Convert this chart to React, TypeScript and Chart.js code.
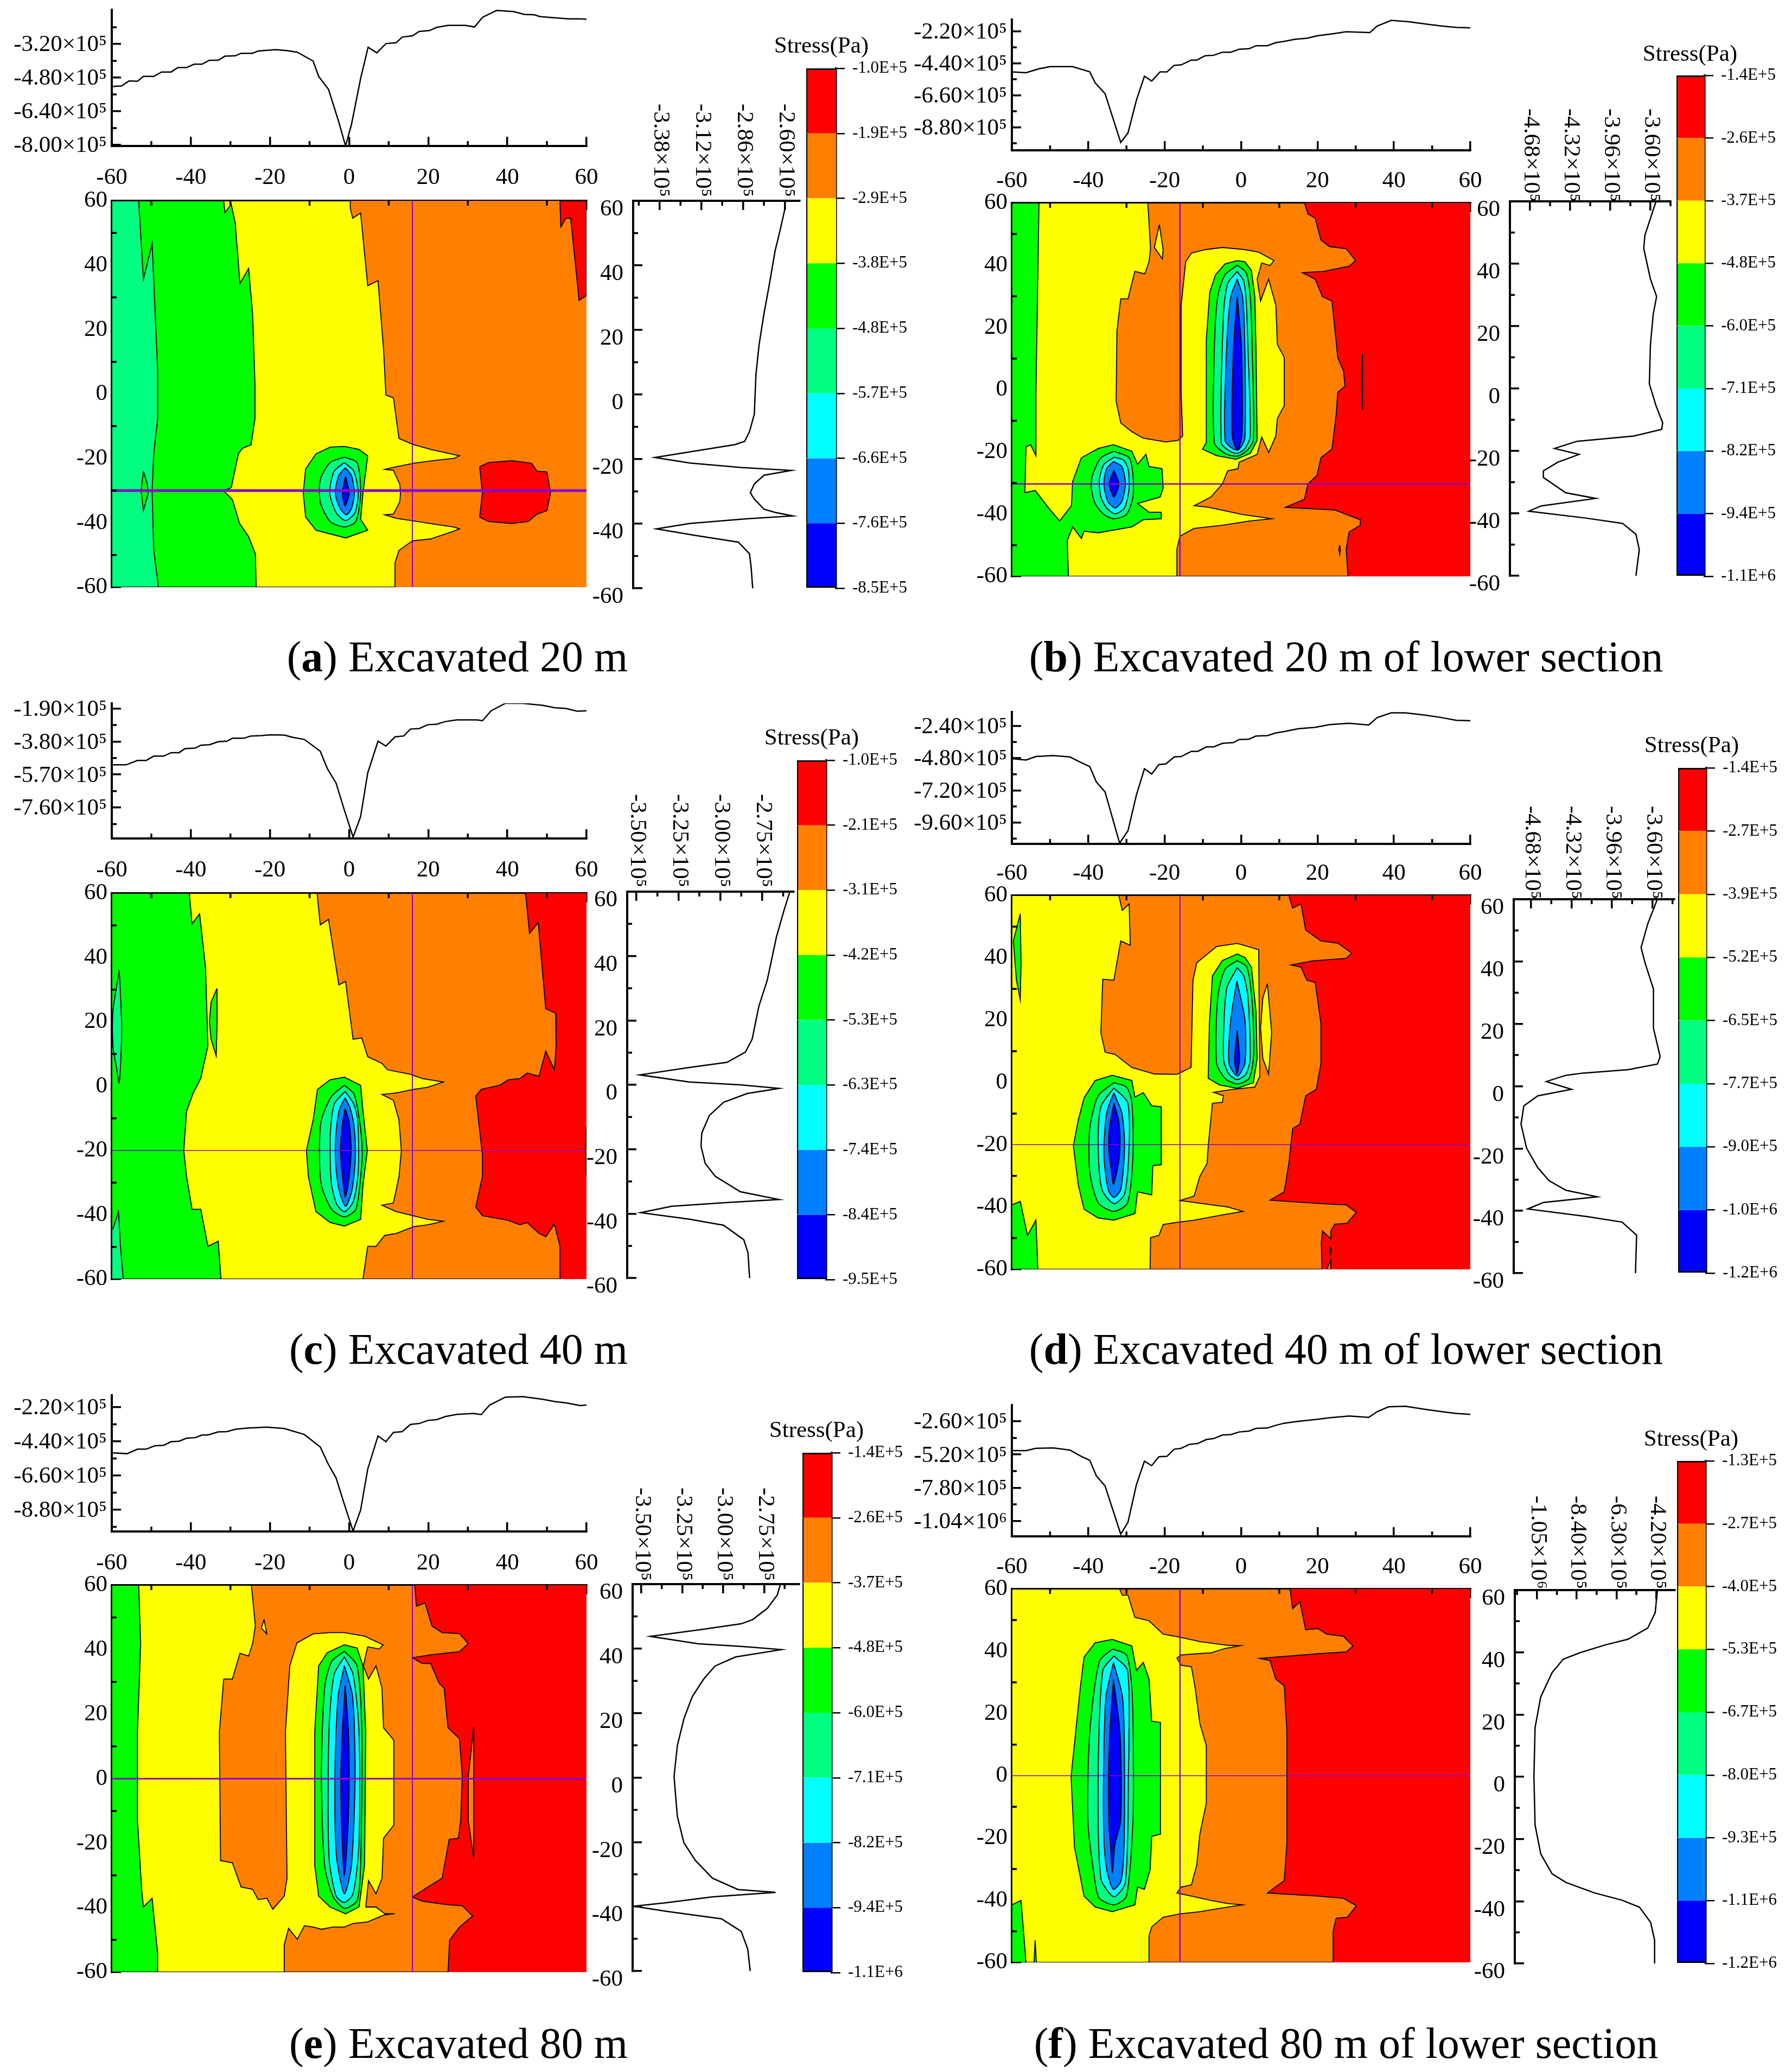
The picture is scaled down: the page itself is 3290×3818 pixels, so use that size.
import React, { useEffect, useRef } from "react";
import { Chart, registerables } from "chart.js";
Chart.register(...registerables);

type P = number[][];

// ---------- colours of the stress bands, top of the colour bar first ----------
const RED = "#ff0000", ORANGE = "#ff8000", YELLOW = "#ffff00", GREEN = "#00ff00";
const SPRING = "#00ff80", CYAN = "#00ffff", DODGER = "#0080ff", BLUE = "#0000ff";
const bandColors = [RED, ORANGE, YELLOW, GREEN, SPRING, CYAN, DODGER, BLUE];
const PURPLE = "#8a00d0";
const FULL: P = [[-60, 60], [60, 60], [60, -60], [-60, -60]];

// ---------- colour-bar labels ----------
const aLegend = ["-1.0E+5", "-1.9E+5", "-2.9E+5", "-3.8E+5", "-4.8E+5", "-5.7E+5", "-6.6E+5", "-7.6E+5", "-8.5E+5"];
const bLegend = ["-1.4E+5", "-2.6E+5", "-3.7E+5", "-4.8E+5", "-6.0E+5", "-7.1E+5", "-8.2E+5", "-9.4E+5", "-1.1E+6"];
const cLegend = ["-1.0E+5", "-2.1E+5", "-3.1E+5", "-4.2E+5", "-5.3E+5", "-6.3E+5", "-7.4E+5", "-8.4E+5", "-9.5E+5"];
const dLegend = ["-1.4E+5", "-2.7E+5", "-3.9E+5", "-5.2E+5", "-6.5E+5", "-7.7E+5", "-9.0E+5", "-1.0E+6", "-1.2E+6"];
const eLegend = ["-1.4E+5", "-2.6E+5", "-3.7E+5", "-4.8E+5", "-6.0E+5", "-7.1E+5", "-8.2E+5", "-9.4E+5", "-1.1E+6"];
const fLegend = ["-1.3E+5", "-2.7E+5", "-4.0E+5", "-5.3E+5", "-6.7E+5", "-8.0E+5", "-9.3E+5", "-1.1E+6", "-1.2E+6"];

// ---------- axis ticks (stress in 1e5 Pa) ----------
const distanceTicks = [-60, -40, -20, 0, 20, 40, 60];
const distanceMinor = [-50, -30, -10, 10, 30, 50];
const aTopTicks = [-3.2, -4.8, -6.4, -8.0];
const bTopTicks = [-2.2, -4.4, -6.6, -8.8];
const cTopTicks = [-1.9, -3.8, -5.7, -7.6];
const dTopTicks = [-2.4, -4.8, -7.2, -9.6];
const eTopTicks = [-2.2, -4.4, -6.6, -8.8];
const fTopTicks = [-2.6, -5.2, -7.8, -10.4];
const aRightTicks = [-3.38, -3.12, -2.86, -2.6];
const bRightTicks = [-4.68, -4.32, -3.96, -3.6];
const cRightTicks = [-3.5, -3.25, -3.0, -2.75];
const dRightTicks = [-4.68, -4.32, -3.96, -3.6];
const eRightTicks = [-3.5, -3.25, -3.0, -2.75];
const fRightTicks = [-10.5, -8.4, -6.3, -4.2];
const aTopRange = [-8.05, -1.57], bTopRange = [-10.39, -1.39], cTopRange = [-9.38, -1.6];
const dTopRange = [-11.19, -1.36], eTopRange = [-10.2, -1.43], fTopRange = [-11.61, -1.32];
const aRightRange = [-3.545, -2.507], bRightRange = [-4.86, -3.42], cRightRange = [-3.555, -2.562];
const dRightRange = [-4.835, -3.404], eRightRange = [-3.553, -2.536], fRightRange = [-11.67, -3.22];

// ---------- profile along the horizontal section: [distance, stress] ----------
const aTopLine: P = [[-60,-5.22],[-57.5,-5.19],[-55.6,-4.95],[-53.5,-4.97],[-52,-4.74],[-49.4,-4.74],[-47.4,-4.53],[-45,-4.53],[-43.3,-4.32],[-41.1,-4.32],[-39.2,-4.16],[-37.2,-4.16],[-35.3,-3.97],[-33.1,-3.97],[-31.4,-3.78],[-28.8,-3.76],[-27.3,-3.64],[-24.4,-3.64],[-23,-3.53],[-18.6,-3.47],[-15.7,-3.51],[-13.1,-3.59],[-9.1,-4.01],[-7.7,-4.74],[-5.2,-5.36],[-2.6,-6.92],[-0.9,-8.05],[0.6,-7.02],[2.9,-4.84],[4.8,-3.35],[7,-3.62],[9.3,-3.18],[11.9,-3.14],[13.4,-2.87],[16,-2.81],[17.7,-2.6],[20.3,-2.56],[22.1,-2.41],[25,-2.31],[29.4,-2.31],[31.7,-2.39],[33.7,-1.93],[37.3,-1.6],[41.7,-1.66],[44.2,-1.79],[46.8,-1.81],[48.2,-1.89],[51.9,-1.95],[55.5,-2],[58.4,-2],[60,-2.02]];
const bTopLine: P = [[-60,-4.99],[-56.3,-5.05],[-52.9,-4.78],[-50,-4.63],[-44.1,-4.63],[-39.6,-4.99],[-38.2,-5.74],[-35.6,-6.49],[-31.5,-9.85],[-29.6,-9.19],[-27.4,-6.94],[-25.3,-5.29],[-23.4,-5.62],[-21.2,-4.99],[-19.4,-4.99],[-17.5,-4.54],[-15.7,-4.51],[-13,-4.18],[-11.6,-4.18],[-9.4,-3.88],[-7.2,-3.85],[-4.9,-3.64],[-2.7,-3.64],[-0.5,-3.43],[2.1,-3.4],[3.9,-3.19],[6.9,-3.19],[9.1,-2.98],[11.3,-2.89],[14.2,-2.74],[17.2,-2.68],[20.1,-2.5],[23.8,-2.38],[27.5,-2.23],[33.7,-2.29],[35.6,-1.84],[39.3,-1.45],[43.8,-1.54],[48.9,-1.72],[52.6,-1.84],[56.3,-1.93],[60,-1.96]];
const cTopLine: P = [[-60,-5.14],[-56.4,-5.14],[-53.5,-4.89],[-51.3,-4.89],[-49.4,-4.64],[-46.9,-4.64],[-45,-4.44],[-43,-4.44],[-41.5,-4.21],[-38.9,-4.18],[-37.5,-4.01],[-35.3,-3.98],[-33.1,-3.81],[-30.9,-3.78],[-29.5,-3.61],[-26.6,-3.61],[-24.8,-3.48],[-22.2,-3.46],[-20,-3.41],[-16.4,-3.43],[-14.2,-3.56],[-11.3,-3.68],[-7.3,-4.36],[-5.5,-5.36],[-3.3,-6.19],[-1.2,-7.75],[1,-9.3],[2.9,-8.12],[4.7,-5.61],[7.3,-3.78],[9.3,-4.06],[11.6,-3.53],[13.8,-3.48],[15.5,-3.08],[17.7,-3.05],[19.9,-2.83],[22.1,-2.8],[24.3,-2.65],[27.2,-2.55],[32.3,-2.55],[33.7,-2.6],[35.9,-2.03],[39.5,-1.6],[43.9,-1.6],[49,-1.72],[51.9,-1.85],[54.8,-1.9],[57.7,-2.05],[60,-2.03]];
const dTopLine: P = [[-60,-4.84],[-56.3,-4.94],[-53.7,-4.68],[-49.2,-4.61],[-44.8,-4.71],[-42.1,-5.1],[-39.6,-5.43],[-37.9,-6.57],[-35.6,-7.32],[-31.8,-11.13],[-29.6,-10.21],[-27.4,-7.54],[-25.3,-5.59],[-23.4,-5.98],[-21.5,-5.27],[-19.7,-5.23],[-17.5,-4.71],[-15.7,-4.68],[-13,-4.29],[-11.3,-4.29],[-9.1,-3.96],[-7.2,-3.96],[-4.9,-3.7],[-2,-3.64],[-0.5,-3.41],[2.1,-3.38],[3.9,-3.15],[6.9,-3.12],[9.1,-2.92],[11.3,-2.82],[15,-2.6],[19.4,-2.5],[23.1,-2.3],[28.3,-2.2],[33.4,-2.33],[35.6,-1.78],[39.3,-1.42],[43,-1.42],[48.2,-1.59],[52.6,-1.78],[56.3,-1.98],[60,-2.01]];
const eTopLine: P = [[-60,-5.13],[-56.1,-5.19],[-53.5,-4.9],[-51.3,-4.9],[-49.1,-4.68],[-46.9,-4.65],[-45,-4.42],[-43,-4.39],[-41.1,-4.19],[-38.9,-4.16],[-37.2,-3.99],[-35.7,-3.99],[-33.1,-3.79],[-30.9,-3.77],[-28.8,-3.62],[-25.9,-3.54],[-20.8,-3.48],[-16.4,-3.57],[-11.3,-3.96],[-7.3,-4.76],[-5.2,-5.9],[-3.3,-6.75],[-1.2,-8.46],[1,-10.17],[2.9,-8.83],[4.7,-6.18],[7.3,-4.05],[9.3,-4.42],[11.2,-3.82],[13.4,-3.77],[15.5,-3.31],[17.7,-3.25],[19.9,-3.05],[22.1,-3],[24.3,-2.8],[27.2,-2.66],[31.5,-2.6],[33.4,-2.68],[35.5,-2.06],[39.5,-1.55],[43.9,-1.52],[49,-1.69],[51.9,-1.83],[54.8,-1.92],[58.4,-2.09],[60,-2.06]];
const fTopLine: P = [[-60,-4.89],[-56.3,-4.89],[-53.7,-4.71],[-49.2,-4.68],[-44.8,-4.85],[-42.1,-5.3],[-39.6,-5.65],[-37.9,-6.86],[-35.6,-7.66],[-31.5,-11.44],[-29.6,-10.5],[-27.4,-7.56],[-25.3,-5.72],[-23.4,-6.07],[-21.5,-5.37],[-19.4,-5.34],[-17.5,-4.78],[-15.7,-4.71],[-13.5,-4.4],[-11.3,-4.33],[-9.1,-4.02],[-7.2,-3.95],[-4.9,-3.67],[-2.7,-3.64],[-0.5,-3.43],[2.1,-3.36],[3.9,-3.15],[6.9,-3.12],[9.1,-2.91],[11.3,-2.74],[15,-2.6],[19.4,-2.46],[23.1,-2.32],[28.3,-2.18],[33.4,-2.29],[35.6,-1.84],[38.6,-1.46],[43,-1.42],[48.2,-1.66],[52.6,-1.84],[56.3,-1.98],[60,-2.05]];

// ---------- profile along the vertical section: [stress, distance] ----------
const aRightLine: P = [[-2.6,60],[-2.6,57.4],[-2.63,50.7],[-2.66,44.6],[-2.7,33.1],[-2.73,25],[-2.76,15.5],[-2.78,6.1],[-2.79,-6.1],[-2.82,-11.5],[-2.85,-14.5],[-2.91,-15.5],[-3.12,-17.2],[-3.41,-19.5],[-3.19,-21.2],[-2.87,-22.6],[-2.56,-23.5],[-2.73,-25],[-2.79,-27.7],[-2.815,-30.4],[-2.79,-32.4],[-2.73,-35.5],[-2.66,-36.5],[-2.55,-37.6],[-2.84,-38.5],[-3.19,-39.9],[-3.4,-41.6],[-3.16,-43.6],[-2.89,-45.7],[-2.82,-49.3],[-2.81,-53.4],[-2.8,-60]];
const bRightLine: P = [[-3.55,60],[-3.65,49.1],[-3.66,44.9],[-3.6,35.1],[-3.545,29.5],[-3.575,23.9],[-3.6,14.1],[-3.61,1.5],[-3.55,-5.5],[-3.49,-11],[-3.5,-13.1],[-3.75,-15.2],[-4.26,-16.9],[-4.46,-19.2],[-4.24,-21.1],[-4.43,-23.6],[-4.56,-26.4],[-4.56,-28.5],[-4.36,-33.4],[-4.09,-35.2],[-4.58,-37.6],[-4.69,-39.3],[-4.18,-41.5],[-3.85,-43.2],[-3.73,-46.7],[-3.7,-51.6],[-3.73,-60]];
const cRightLine: P = [[-2.585,60],[-2.62,54.2],[-2.665,46],[-2.72,32.5],[-2.77,24.4],[-2.81,14.2],[-2.85,10.2],[-2.96,7],[-3.185,5.4],[-3.48,3.1],[-3.185,0.9],[-2.88,0],[-2.65,-1.1],[-2.84,-2.7],[-2.98,-5.4],[-3.065,-9.5],[-3.11,-14.9],[-3.115,-19],[-3.09,-24.4],[-3.03,-28.4],[-2.88,-33.2],[-2.65,-35.6],[-2.98,-36.6],[-3.29,-37.7],[-3.475,-39.7],[-3.185,-41.7],[-2.98,-43.6],[-2.86,-48.1],[-2.835,-52.1],[-2.825,-60]];
const dRightLine: P = [[-3.555,60],[-3.64,52.2],[-3.7,44.5],[-3.665,39.6],[-3.59,31.2],[-3.59,18.6],[-3.53,9.5],[-3.555,7.1],[-3.815,5.3],[-4.22,4.2],[-4.37,3.5],[-4.545,1.5],[-4.32,-1],[-4.62,-3.1],[-4.745,-6.3],[-4.77,-12.2],[-4.72,-19.9],[-4.62,-26.2],[-4.52,-30.3],[-4.37,-33.4],[-4.09,-35.5],[-4.57,-37.3],[-4.71,-39.4],[-4.19,-41.8],[-3.87,-43.6],[-3.74,-47.8],[-3.75,-60]];
const eRightLine: P = [[-2.65,60],[-2.67,56.6],[-2.73,52.5],[-2.82,49],[-2.89,47.7],[-3.135,45.9],[-3.445,43.8],[-3.15,41.5],[-2.89,40.7],[-2.645,39.7],[-2.925,37.4],[-3.05,34.6],[-3.12,30.5],[-3.19,25],[-3.24,18.2],[-3.28,9.9],[-3.3,0.3],[-3.28,-12],[-3.24,-20.2],[-3.17,-25.7],[-3.065,-31.2],[-2.91,-34.7],[-2.68,-35.6],[-3.065,-37],[-3.345,-38.8],[-3.545,-39.9],[-3.345,-41.5],[-3.01,-43.8],[-2.89,-47.7],[-2.85,-53.2],[-2.835,-60]];
const fRightLine: P = [[-4.14,60],[-4.26,52.7],[-4.65,47.8],[-5.69,44.2],[-6.88,42.4],[-8.22,39.9],[-9.11,37.8],[-9.7,33.5],[-10.3,25.7],[-10.6,15.8],[-10.66,0.1],[-10.6,-15.5],[-10.3,-24.8],[-9.7,-31.2],[-8.96,-34],[-7.47,-37.3],[-5.99,-39.7],[-5.09,-41.9],[-4.5,-46.8],[-4.29,-52.5],[-4.29,-60]];

// ---------- contour regions of panel (a): [distance x, distance y] ----------
const aRedTop: P = [[53.3,60],[53.5,51.9],[54.8,54.6],[56,54.6],[57.7,34.3],[58.1,29.1],[60,30.6],[60,60]];
const aRedBlob: P = [[33,-22.6],[35.2,-21.3],[41,-20.7],[46.1,-21.5],[47.5,-24],[50,-24.2],[50.9,-30.7],[50,-36.2],[47.5,-37.3],[45.3,-39.6],[41,-40.2],[35.2,-39.6],[33,-38.2],[33.7,-30.7]];
const aYellow: P = [[-60,60],[0.3,60],[0.3,57.6],[0.9,54.6],[2.9,56.2],[4.7,33.6],[7.3,35.2],[8.7,14],[9.3,-0.3],[11.2,-1.2],[12.6,-13.8],[16,-15.6],[20.6,-17.2],[25.7,-18.6],[27.9,-19.2],[26.5,-20],[22,-20.6],[16.3,-21.5],[11.9,-22.6],[9,-23.4],[11.2,-23.7],[12.8,-28],[13,-30.7],[12.8,-33.5],[11.2,-37.3],[9,-37.5],[11.9,-38.6],[16.3,-39.4],[22,-40.5],[26.5,-41.3],[27.9,-41.9],[25.7,-42.9],[20.6,-45],[16,-45.6],[12.6,-48.6],[11.6,-52.4],[11.6,-60],[-60,-60]];
const aGreen: P = [[-60,60],[-31.7,60],[-31.4,56.3],[-29.8,58.9],[-28.8,53.2],[-27.6,34.3],[-25.4,39],[-24.4,24.8],[-23.8,3.1],[-23.8,-7.7],[-24.8,-15.8],[-27,-16.9],[-28,-18.6],[-29.8,-29.1],[-31.7,-30.1],[-29.5,-32.8],[-27.7,-40.2],[-25.4,-44.3],[-23.7,-49.7],[-23.5,-60],[-60,-60]];
const aSpring: P = [[-60,60],[-53.2,60],[-52,35.6],[-49.8,46.7],[-48.4,7.2],[-48.4,-7.7],[-49.4,-18.6],[-49.8,-30],[-49.4,-48.4],[-48.2,-60],[-60,-60]];
const aGreenIsland: P = [[-52,-24],[-51,-28],[-50.8,-31],[-51.5,-34],[-52,-36.2],[-52.6,-30]];
const aCoreGreen: P = [[-1.2,-16.3],[-4.8,-16.5],[-8.4,-18.6],[-11,-23.3],[-11.6,-30.7],[-11,-38.2],[-8.4,-42.3],[-4.4,-43.6],[-0.9,-44.7],[4.7,-42.3],[2.9,-38.9],[3.5,-30.7],[4.7,-19.2],[2.5,-17.2]];
const aCoreSpring: P = [[-1.2,-19.6],[-4.8,-21.3],[-7.3,-26.7],[-7.3,-33.5],[-4.8,-39.6],[-1.2,-41.3],[1.7,-39.6],[2.9,-30.7],[2,-21.3]];
const aCoreCyan: P = [[-1.2,-21.3],[-3.8,-24],[-4.9,-30.7],[-3.3,-36.8],[-0.9,-39.3],[1.5,-36.8],[2.3,-30.7],[1.2,-24]];
const aCoreDodger: P = [[-1,-22.9],[-2.6,-25.3],[-3.5,-30.7],[-2.3,-35.5],[-0.7,-37.5],[0.6,-35.5],[1.3,-30.7],[0.6,-25.3]];
const aCoreBlue: P = [[-0.9,-25.6],[-1.7,-30.7],[-1,-34.8],[0,-30.7]];

// ---------- contour regions of panel (b) ----------
const bOrange: P = [[-60,60],[16.6,60],[17.5,56.5],[19.4,55.1],[20.9,48.1],[23.1,46],[27.5,45.3],[30,41.5],[28.3,39.7],[21.6,38],[16,37.6],[19.4,35.5],[21.3,29.9],[23.8,28.5],[25.3,10.3],[26.8,6.1],[27.2,1.2],[25.3,-0.9],[24.9,-7.9],[23.8,-19.1],[20.9,-21.9],[19.9,-27.5],[17.5,-30.3],[16.6,-35.2],[11.6,-37.8],[24.6,-38.7],[31.2,-41.8],[31.2,-43.6],[28.3,-45.7],[27.5,-51.3],[28,-60],[-60,-60]];
const bSliverA: P = [[25.8,-50],[26,-51.6],[25.8,-53],[25.6,-51.6]];
const bSliverB: P = [[31.75,11.4],[31.85,1.8],[31.75,-6.5],[31.65,1.8]];
const bYellow: P = [[-60,60],[-24.4,60],[-23.7,45.3],[-24.1,41.1],[-25.2,37.2],[-27.8,38],[-29.6,29.2],[-31.5,29.2],[-32.5,18.7],[-32.7,-3.7],[-31.5,-10.7],[-28.6,-13.5],[-25.6,-15.6],[-19.7,-16.8],[-16.5,-16.3],[-15.3,-14.9],[-15.7,-0.9],[-15.7,27.1],[-14.5,41.1],[-13,43.9],[-9.4,45],[-4.9,45.7],[1,45],[4.6,44.2],[8.6,41.5],[7.6,39.9],[5.4,40.7],[4.2,35.5],[5.1,28.5],[7.2,35.5],[9.1,27.1],[9.5,14.5],[11.3,10.3],[11.3,-5.1],[9.5,-9.3],[9.1,-14.9],[7.2,-20.2],[5.4,-15.2],[4.2,-20.8],[-0.5,-23.3],[-0.8,-25.4],[-3.5,-26.1],[-4.9,-30.3],[-7.9,-34.5],[-12.3,-37.3],[-8.6,-37.8],[0.2,-40.1],[8,-41.5],[2.4,-42.2],[-4.9,-43.6],[-12.3,-44.6],[-16,-47.1],[-16.8,-51.3],[-16.8,-60],[-60,-60]];
const bYellowIsland: P = [[-21.4,53],[-20.4,45],[-20.6,42],[-22.7,45.7]];
const bGreen: P = [[-60,60],[-52.9,60],[-53.7,-0.9],[-53.7,-21.2],[-55.1,-17.7],[-56.3,-18.4],[-56.6,-33.1],[-53.9,-32.4],[-50.4,-38],[-47.5,-42.2],[-44.4,-37.3],[-44.1,-29.6],[-41.8,-21.9],[-37.4,-18.9],[-33.4,-17.7],[-28.6,-19.8],[-27.1,-24],[-24.9,-20.8],[-24.1,-24.7],[-20.7,-25.4],[-20.4,-31.7],[-21.2,-34.5],[-27.1,-36.6],[-24.1,-39.4],[-20.9,-39.4],[-20.9,-41.5],[-25.6,-41.8],[-28.6,-44.1],[-37.4,-46],[-41.1,-45.5],[-41.8,-47.8],[-44.1,-44.1],[-45.5,-48.5],[-45.2,-60],[-60,-60]];
const bUpperSpring: P = [[-1,40],[-4.2,36.9],[-6.1,29.9],[-7,13.1],[-7,-17],[-4.2,-20.5],[-1.1,-21.4],[1.3,-19.8],[3.2,-16.3],[2.9,13.1],[2.4,29.9],[1.3,37.6]];
const bUpperGreen: P = [[-1,41.5],[-4.2,40.4],[-6.7,36.9],[-8.2,31.3],[-9.1,15.9],[-9.1,-17],[-10.1,-19.1],[-6.4,-21.2],[-1.3,-22.4],[2.4,-20.5],[4.2,-16.3],[3.9,13.1],[3.6,29.9],[2.7,38.3],[1,41.1]];
const bUpperCyan: P = [[-1,38],[-3.5,34.1],[-4.6,24.3],[-5.2,-17],[-3.2,-19.6],[-1,-20.5],[1,-18.9],[2.4,-14.9],[1.8,13.1],[1.4,27.1],[0.7,34.8]];
const bUpperDodger: P = [[-1,35.5],[-2.7,29.9],[-3.8,13.1],[-4.2,-16.3],[-2,-19.1],[-0.5,-19.1],[1,-15.6],[1,13.1],[0.4,29.9]];
const bUpperBlue: P = [[-1,29.9],[-2,13.1],[-2.3,-14.9],[-1,-19.6],[0.2,-14.9],[0.1,13.1]];
const bLowerSpring: P = [[-33.3,-19.8],[-36.7,-21.9],[-38.9,-27.5],[-39.2,-31.7],[-38.2,-36.6],[-35.9,-40.1],[-33.3,-41.5],[-30,-40.1],[-28.3,-34.5],[-28.3,-27.5],[-29.3,-21.9]];
const bLowerCyan: P = [[-33.3,-21.7],[-35.9,-24],[-37.1,-28.9],[-36.7,-34.5],[-35.2,-38],[-33,-39.9],[-30.5,-38],[-29.3,-31.7],[-29.6,-25.4],[-30.8,-22.6]];
const bLowerDodger: P = [[-33.4,-23.1],[-35.2,-25.4],[-35.9,-30.3],[-34.9,-35.9],[-33,-38],[-31.2,-35.9],[-30.3,-30.3],[-31.2,-24.7]];
const bLowerBlue: P = [[-33.3,-25.9],[-34.5,-30.3],[-33.3,-34.5],[-32,-30.3]];

// ---------- contour regions of panel (c) ----------
const cOrange: P = [[-60,60],[44.6,60],[45.6,47.5],[47.8,50.9],[49.7,24.1],[52.2,22.7],[52.3,12.5],[51.9,5.1],[49.7,10.9],[48,3.1],[45,4.1],[43.2,2.4],[40.2,2],[38.1,0.3],[33.4,-1],[32,-3.1],[33.7,-21.4],[33.7,-28.1],[32,-37.6],[33.7,-40.3],[40.2,-41.7],[43.2,-43.1],[45,-42.4],[48,-45.8],[49.7,-46.8],[51.9,-42.9],[53.3,-49.8],[53.3,-60],[-60,-60]];
const cSliver: P = [[60,-12.5],[59.7,-20],[60,-28]];
const cYellow: P = [[-60,60],[-8.1,60],[-7.3,50.2],[-5.2,51.9],[-2.6,31.5],[-0.9,32.6],[1,14.6],[3.2,15],[4.7,9.2],[8.3,7.1],[9.7,5.1],[15.5,3.7],[18.5,2.4],[23.8,1.3],[19.9,-0.3],[16.3,-1],[11.9,-2.1],[8.3,-2.6],[11.2,-4.4],[12.6,-10.5],[13.2,-20],[12.6,-28.1],[11.2,-36.3],[8.3,-37],[11.9,-39],[16.3,-40.3],[19.9,-41.4],[23.8,-42],[19.9,-43.1],[16.3,-43.7],[11.9,-45.8],[9,-46.4],[6.8,-49.8],[4.7,-49.8],[3.5,-60],[-60,-60]];
const cGreen: P = [[-60,60],[-40.4,60],[-39.7,50.5],[-37.8,53.6],[-36.3,36.9],[-35.7,12.5],[-37.5,2.4],[-39.4,-2.1],[-41.1,-7.8],[-41.8,-20],[-41.1,-28.1],[-39.7,-38.3],[-37.5,-38.3],[-35.7,-49.8],[-33.1,-48.2],[-32.4,-60],[-60,-60]];
const cGreenLens: P = [[-33.4,30.4],[-34.9,26.1],[-35.3,20],[-34.9,14.6],[-33.6,9.4],[-33.4,19.3]];
const cSpringTop: P = [[-58.1,36],[-59.7,23.4],[-59.7,12.5],[-58.8,5.8],[-58.1,1],[-57.5,18]];
const cSpringLow: P = [[-60,-44.4],[-59.7,-44.4],[-58.3,-39],[-57.8,-49.8],[-57.1,-60],[-60,-60]];
const cCoreGreen: P = [[-1.2,2.8],[-4.8,2],[-8,-1],[-9.1,-10.5],[-10.8,-20],[-10.3,-28.1],[-8.4,-39],[-4.8,-42.4],[-1.2,-43.5],[2.9,-41.4],[3.5,-30.8],[4.6,-20],[3.5,-7.8],[2.9,0.3]];
const cCoreSpring: P = [[-1.2,0.3],[-4.4,-3.1],[-7,-10.5],[-7.5,-20],[-7,-30.8],[-4.4,-38.3],[-1.2,-40.6],[1.7,-38.3],[3,-27],[3.3,-20],[2.6,-10.5],[1.2,-2.4]];
const cCoreCyan: P = [[-1,-1.6],[-3.7,-5.4],[-4.6,-12],[-4.8,-20],[-4.5,-30],[-3.2,-36.5],[-1.2,-39],[1,-36],[2.2,-28],[2.4,-20],[2.1,-10],[1.1,-5.4]];
const cCoreDodger: P = [[-1,-3.6],[-2.4,-7],[-3.2,-13],[-3.5,-20],[-3.2,-27],[-2.4,-33],[-0.9,-37.4],[0.6,-33],[1.3,-27],[1.6,-20],[1.2,-12],[0.3,-7]];
const cCoreBlue: P = [[-1,-6.9],[-1.6,-11],[-2.2,-20],[-1.6,-29],[-1,-34.6],[-0.1,-29],[0.5,-20],[0,-11]];

// ---------- contour regions of panel (d) ----------
const dOrange: P = [[-60,60],[12.5,60],[13.5,55.9],[15.7,57.3],[16.9,48.9],[20.9,45.4],[25.3,44.7],[29,41.5],[27.5,39.8],[18.7,39],[13.1,37.7],[15.7,37],[17.2,32.8],[19.4,32.1],[20.9,18.8],[20.9,6.2],[19.7,-2.2],[16.9,-4.3],[15.4,-13.4],[13.5,-14.8],[12.5,-26],[11.3,-35.1],[7.6,-37.8],[20.9,-38.9],[27.5,-39.3],[30.2,-41.7],[27.7,-45.2],[24.5,-45.5],[23.5,-47.7],[23.5,-50.2],[21.3,-47.7],[21,-51.5],[21.2,-60],[-60,-60]];
const dOrangeTriangle: P = [[22.4,-60],[23.5,-57],[23.5,-60]];
const dOrangeLens: P = [[23.4,-52.9],[23.6,-54],[23.4,-55.2],[23.2,-54]];
const dYellow: P = [[-60,60],[-32,60],[-31.1,55.2],[-29.3,57.3],[-29,44],[-31.5,45.4],[-33.3,32.8],[-36.2,33.1],[-36.7,16],[-35.6,9.7],[-33,9],[-28.6,4.8],[-22.7,2.7],[-16.8,2.6],[-13.1,4.8],[-12.6,32.8],[-11.6,38.4],[-6.4,43.6],[-1,44.6],[4.6,42.6],[4.8,16],[4.9,2],[3.6,-1.5],[-2,-2.2],[-7.2,-3.2],[-4.6,-4.3],[-4.9,-6.4],[-7.5,-6.7],[-8.6,-20.4],[-8.9,-26],[-10.8,-30.2],[-12.3,-36.5],[-16,-37.9],[-3.5,-40],[0.5,-41.4],[-4.9,-42.5],[-12.3,-44.2],[-16.8,-44.9],[-20.4,-45.6],[-21.5,-49.1],[-23.7,-49.8],[-23.8,-60],[-60,-60]];
const dYellowLens: P = [[6.9,31.7],[8,16],[7.2,2.7],[5.7,7.6],[5.1,17.4],[5.7,27.2]];
const dGreenTop: P = [[-57.8,54.1],[-59.6,45.4],[-58.8,32.8],[-57.8,26.5],[-57.6,38.4]];
const dGreenLow: P = [[-60,-39.3],[-57.8,-38.2],[-55.9,-49.1],[-53.7,-44.2],[-53.2,-60],[-60,-60]];
const dLowerGreen: P = [[-33.7,2.3],[-38.2,0.6],[-41.1,-5],[-42.6,-12],[-43.9,-20.4],[-42.6,-33],[-41.1,-40.7],[-37.4,-43.5],[-33.3,-44.2],[-27.8,-42.1],[-27.1,-35.1],[-23.4,-36.1],[-23.1,-26.7],[-20.9,-26.4],[-20.9,-7.8],[-23.4,-7.5],[-25.6,-3.3],[-27.8,-4.7],[-28.6,0.6]];
const dLowerSpring: P = [[-33.3,-0.1],[-37.4,-4.3],[-39.6,-14.8],[-39.6,-28.8],[-37.4,-38.6],[-33.3,-41.4],[-29.7,-38.6],[-28.3,-23.2],[-28.6,-6.4],[-30,-1.5]];
const dLowerCyan: P = [[-33.3,-1.8],[-36.7,-7.8],[-37.4,-20.4],[-36.4,-34.4],[-33.3,-38.9],[-30.5,-35.8],[-29.3,-20.4],[-29.7,-6.4]];
const dLowerDodger: P = [[-33.3,-3.3],[-35.2,-9.9],[-35.9,-23.2],[-34.8,-34.4],[-33.3,-36.9],[-31.5,-34.4],[-30.5,-20.4],[-31.2,-9.9]];
const dLowerBlue: P = [[-33.3,-6.7],[-34.5,-15],[-34.6,-22],[-34,-28],[-33.4,-32.7],[-32,-25],[-31.7,-18],[-32.1,-12]];
const dUpperGreen: P = [[-1,41.2],[-4.9,39.1],[-7.5,34.2],[-8.3,18.8],[-8.6,1.3],[-5.7,-0.8],[-1,-1.9],[3.2,-0.1],[4.2,7.6],[3.9,23],[2.7,37],[1,40.1]];
const dUpperSpring: P = [[-1,39.1],[-4.2,36.3],[-6.1,27.2],[-6.4,6.2],[-4.2,1.3],[-1,-0.5],[2.1,1.3],[3.3,9],[2.9,25.8],[1.5,37]];
const dUpperCyan: P = [[-1,36.8],[-3.8,30],[-4.6,7.6],[-3.2,2.7],[-1,0.9],[1.3,2.7],[2.4,7.6],[1.8,27.2],[0.7,34.2]];
const dUpperDodger: P = [[-1.1,32.5],[-2.7,20.2],[-3.2,6.2],[-1,2],[1,6.2],[1,20.2]];
const dUpperBlue: P = [[-1,16.7],[-1.7,7.6],[-1.1,2.7],[-0.4,7.6]];

// ---------- contour regions of panel (e) ----------
const eOrange: P = [[-60,60],[16.6,60],[17,53.5],[19.2,54.5],[20.9,47.4],[23.5,45.3],[27.9,45],[30.1,41.9],[27.9,39.4],[20.6,38.4],[16,37.5],[18.5,35.7],[20.6,35.7],[22.8,29.5],[24,28.1],[25,15.8],[27.9,12.4],[28.6,0.7],[28.2,-13],[27.6,-18.5],[25.3,-18.8],[23.5,-30.9],[19.9,-33.6],[16,-36.7],[18.5,-38],[25,-39.1],[28.6,-39.4],[31.2,-42.6],[27.9,-46],[25.4,-50.1],[25,-60],[-60,-60]];
const eSliver: P = [[31.5,16],[30.1,0.7],[30.1,-13],[31.5,-24.7],[31.5,0.7]];
const eYellow: P = [[-60,60],[-24.7,60],[-23.7,47.4],[-24.4,41.9],[-25.4,38],[-27.6,38.9],[-29.5,30.9],[-31.7,30.9],[-32.8,14.4],[-32.5,-25.4],[-29.5,-26.1],[-27.3,-33.6],[-24.4,-34.3],[-23,-37.5],[-20.8,-37.1],[-19.3,-40.5],[-16.4,-36.4],[-15.7,-30.9],[-16.1,14.4],[-15,35],[-13.2,42.1],[-9.1,44.9],[-4.8,45.3],[-1.2,45.3],[3.9,44.2],[8.6,41.5],[7.6,40.2],[4.7,40.9],[3.6,35],[4.9,30.9],[6.8,35],[8.3,28.1],[8.7,15.8],[11.3,11.9],[11.3,-14.4],[8.7,-18.5],[8.3,-30.9],[6.8,-35.7],[4.9,-31.6],[4.2,-39.8],[6.8,-39.8],[9,-41.9],[11.5,-41.9],[9,-42.2],[4.7,-44.4],[1,-44.9],[-1.2,-46],[-4.1,-46],[-7,-46.7],[-9.1,-46],[-11.3,-45.6],[-13.1,-49.8],[-15.3,-46.4],[-16.4,-51.5],[-16.4,-60],[-60,-60]];
const eYellowIsland: P = [[-21.5,49.4],[-20.8,44.9],[-22.2,46.7]];
const eGreen: P = [[-60,60],[-53.2,60],[-52.7,41.9],[-53.5,14.4],[-53.5,-13],[-52.4,-35],[-52,-39.8],[-49.8,-37.1],[-48.4,-54.2],[-48.4,-60],[-60,-60]];
const eCoreGreen: P = [[-1.2,41.5],[-5.5,39.1],[-7.7,35],[-8.7,14.4],[-8.7,-26.8],[-7.7,-36.4],[-4.8,-39.8],[-0.9,-41.9],[2.5,-39.8],[3.9,-26.8],[4.2,14.4],[3.5,35],[2,40.5]];
const eCoreSpring: P = [[-1.2,39.5],[-4.4,36.4],[-6.2,28.1],[-7,0.7],[-6.2,-26.8],[-4.1,-36.4],[-1.2,-40.2],[2,-37.8],[2.9,-26.8],[3.2,14.4],[2,35]];
const eCoreCyan: P = [[-1.2,37.8],[-3.8,32.3],[-5.1,14.4],[-5.1,-24],[-3.3,-36.4],[-1.2,-38.4],[1,-35.7],[2.5,-19.9],[2.5,14.4],[1,32.3]];
const eCoreDodger: P = [[-1.2,35],[-2.8,25.4],[-3.6,0.7],[-3.2,-24],[-1.2,-35.7],[0.6,-26.8],[1.5,0.7],[0.9,25.4]];
const eCoreBlue: P = [[-1,28.8],[-1.7,15],[-2.1,0.7],[-1.9,-15],[-1.2,-30.2],[-0.3,-15],[0,0.7],[-0.2,15]];

// ---------- contour regions of panel (f) ----------
const fOrange: P = [[-60,60],[12.8,60],[13.5,53.7],[15.4,55.9],[16.9,46.9],[20.1,47.3],[22.4,45.5],[26.8,44.8],[29.3,41.7],[27.5,39.8],[20.1,39.2],[4.9,37.7],[7.6,37],[9.1,31],[11.3,28.9],[12,13.9],[12,-21.6],[11.3,-33.7],[6.9,-37.7],[20.1,-38.7],[26.8,-39.4],[30.2,-41.8],[27.8,-45.5],[24.9,-45.8],[24.1,-50],[24.1,-60],[-60,-60]];
const fYellow: P = [[-60,60],[-31.8,60],[-31.1,58],[-29.6,58],[-27.8,50.9],[-24.1,49.8],[-20.4,45.5],[-16,44.5],[-10.8,43.1],[-3.5,41.9],[-0.2,41.8],[-4.2,40.9],[-7.9,39.5],[-11.6,39.2],[-15.7,38.8],[-16.8,37.8],[-15.7,35.5],[-13,35],[-12,28.1],[-10.8,16.8],[-9.1,9.7],[-9.1,-8.8],[-10.8,-18.8],[-11.6,-28.7],[-13,-35.1],[-15.7,-35.8],[-16.8,-37.7],[-13,-38.7],[-7.9,-40.1],[-3.5,-41.1],[0.4,-41.5],[-4.9,-42.5],[-10.8,-43.7],[-16,-44.4],[-20.4,-45.5],[-23.4,-48.6],[-24.1,-51.5],[-24.1,-60],[-60,-60]];
const fGreenLow: P = [[-60,-41.5],[-57.6,-40.1],[-56.3,-60],[-60,-60]];
const fGreenSliver: P = [[-53.9,-52.9],[-54.2,-60],[-53.6,-60]];
const fCoreGreen: P = [[-33.7,43.8],[-38.2,42.7],[-41.1,38.1],[-42.1,28.1],[-44.5,-0.3],[-43.6,-23],[-41.1,-38.7],[-38.2,-42.2],[-33.7,-43.7],[-27.8,-41.5],[-27.1,-35.8],[-25.3,-36.5],[-23.8,-30.1],[-23.4,-19.5],[-21.2,-18.8],[-21.1,17.1],[-23.4,17.5],[-24.1,31],[-25.6,36.4],[-27.4,33.8],[-28.6,41.7]];
const fCoreSpring: P = [[-33.7,40.7],[-37.1,36.7],[-39.6,13.9],[-40.1,-14.5],[-38.2,-34.4],[-37.1,-39.4],[-33.3,-41.5],[-30,-38.7],[-28.3,-14.5],[-28.2,8],[-28.6,28.1],[-30,38.8]];
const fCoreCyan: P = [[-33.3,38.5],[-36.2,33.8],[-37.4,-0.3],[-36.7,-33],[-33.3,-38.9],[-30.3,-34.4],[-29.5,-0.3],[-29.7,33.8]];
const fCoreDodger: P = [[-33.4,36.4],[-35.4,25],[-36,0],[-35.9,-20],[-35.2,-30],[-33.5,-36.5],[-31.5,-34],[-30.7,-25],[-30.5,0],[-31,25]];
const fCoreBlue: P = [[-33.4,31],[-34.3,15],[-34.7,0],[-34.6,-15],[-34.2,-22],[-33.7,-31.2],[-33,-22],[-31.6,-15],[-31.4,0],[-31.8,15]];

// ---------- captions ----------
const captionLetters = ["a", "b", "c", "d", "e", "f"];
const captionTexts = ["Excavated 20 m", "Excavated 20 m of lower section", "Excavated 40 m", "Excavated 40 m of lower section", "Excavated 80 m", "Excavated 80 m of lower section"];

type Band = [string, P];
type Panel = {
  top: P; right: P; topTicks: number[]; rightTicks: number[]; topRange: number[]; rightRange: number[];
  legend: string[]; bands: Band[]; hAt: number; vAt: number; hW: number; vW: number;
  g: { top: number[]; map: number[]; right: number[]; bar: number[]; title: number[]; topOff: number; rightOff: number; cap: number[] };
};

const panels: Panel[] = [
  { top: aTopLine, right: aRightLine, topTicks: aTopTicks, rightTicks: aRightTicks, topRange: aTopRange, rightRange: aRightRange, legend: aLegend,
    bands: [[ORANGE, FULL], [RED, aRedTop], [RED, aRedBlob], [YELLOW, aYellow], [GREEN, aGreen], [SPRING, aSpring], [GREEN, aGreenIsland], [GREEN, aCoreGreen], [SPRING, aCoreSpring], [CYAN, aCoreCyan], [DODGER, aCoreDodger], [BLUE, aCoreBlue]],
    hAt: -30, vAt: 16, hW: 5, vW: 2,
    g: { top: [206, 1081, 18, 269], map: [206, 1081, 370, 1082], right: [1167, 1474, 370, 1084], bar: [1486, 1541, 126, 1084], title: [1514, 83], topOff: 59, rightOff: 179, cap: [843, 1210] } },
  { top: bTopLine, right: bRightLine, topTicks: bTopTicks, rightTicks: bRightTicks, topRange: bTopRange, rightRange: bRightRange, legend: bLegend,
    bands: [[RED, FULL], [ORANGE, bOrange], [ORANGE, bSliverA], [ORANGE, bSliverB], [YELLOW, bYellow], [YELLOW, bYellowIsland], [GREEN, bGreen], [GREEN, bUpperGreen], [SPRING, bUpperSpring], [CYAN, bUpperCyan], [DODGER, bUpperDodger], [BLUE, bUpperBlue], [SPRING, bLowerSpring], [CYAN, bLowerCyan], [DODGER, bLowerDodger], [BLUE, bLowerBlue]],
    hAt: -30.3, vAt: -16, hW: 2.5, vW: 2.5,
    g: { top: [1865, 2710, 36, 277], map: [1865, 2710, 374, 1062], right: [2783, 3079, 371, 1061], bar: [3090, 3142, 139, 1062], title: [3115, 98], topOff: 57, rightOff: 171, cap: [2481, 1210] } },
  { top: cTopLine, right: cRightLine, topTicks: cTopTicks, rightTicks: cRightTicks, topRange: cTopRange, rightRange: cRightRange, legend: cLegend,
    bands: [[RED, FULL], [ORANGE, cOrange], [ORANGE, cSliver], [YELLOW, cYellow], [GREEN, cGreen], [GREEN, cGreenLens], [SPRING, cSpringTop], [SPRING, cSpringLow], [GREEN, cCoreGreen], [SPRING, cCoreSpring], [CYAN, cCoreCyan], [DODGER, cCoreDodger], [BLUE, cCoreBlue]],
    hAt: -20, vAt: 16, hW: 1.5, vW: 2,
    g: { top: [206, 1081, 1296, 1545], map: [206, 1081, 1646, 2357], right: [1156, 1463, 1643, 2355], bar: [1469, 1523, 1401, 2358], title: [1496, 1358], topOff: 59, rightOff: 180, cap: [845, 2486] } },
  { top: dTopLine, right: dRightLine, topTicks: dTopTicks, rightTicks: dRightTicks, topRange: dTopRange, rightRange: dRightRange, legend: dLegend,
    bands: [[RED, FULL], [ORANGE, dOrange], [ORANGE, dOrangeTriangle], [ORANGE, dOrangeLens], [YELLOW, dYellow], [YELLOW, dYellowLens], [GREEN, dGreenTop], [GREEN, dGreenLow], [GREEN, dLowerGreen], [SPRING, dLowerSpring], [CYAN, dLowerCyan], [DODGER, dLowerDodger], [BLUE, dLowerBlue], [GREEN, dUpperGreen], [SPRING, dUpperSpring], [CYAN, dUpperCyan], [DODGER, dUpperDodger], [BLUE, dUpperBlue]],
    hAt: -20, vAt: -16, hW: 1.5, vW: 2,
    g: { top: [1865, 2710, 1312, 1555], map: [1865, 2710, 1650, 2339], right: [2790, 3086, 1657, 2346], bar: [3093, 3145, 1415, 2346], title: [3118, 1372], topOff: 55, rightOff: 172, cap: [2481, 2486] } },
  { top: eTopLine, right: eRightLine, topTicks: eTopTicks, rightTicks: eRightTicks, topRange: eTopRange, rightRange: eRightRange, legend: eLegend,
    bands: [[RED, FULL], [ORANGE, eOrange], [ORANGE, eSliver], [YELLOW, eYellow], [YELLOW, eYellowIsland], [GREEN, eGreen], [GREEN, eCoreGreen], [SPRING, eCoreSpring], [CYAN, eCoreCyan], [DODGER, eCoreDodger], [BLUE, eCoreBlue]],
    hAt: 0, vAt: 16, hW: 3, vW: 2,
    g: { top: [206, 1081, 2571, 2822], map: [206, 1081, 2921, 3634], right: [1166, 1473, 2919, 3632], bar: [1479, 1533, 2677, 3635], title: [1505, 2634], topOff: 59, rightOff: 178, cap: [845, 3765] } },
  { top: fTopLine, right: fRightLine, topTicks: fTopTicks, rightTicks: fRightTicks, topRange: fTopRange, rightRange: fRightRange, legend: fLegend,
    bands: [[RED, FULL], [ORANGE, fOrange], [YELLOW, fYellow], [GREEN, fGreenLow], [GREEN, fGreenSliver], [GREEN, fCoreGreen], [SPRING, fCoreSpring], [CYAN, fCoreCyan], [DODGER, fCoreDodger], [BLUE, fCoreBlue]],
    hAt: 0, vAt: -16, hW: 1.5, vW: 2.5,
    g: { top: [1865, 2710, 2589, 2831], map: [1865, 2710, 2928, 3616], right: [2792, 3087, 2930, 3618], bar: [3091, 3144, 2692, 3618], title: [3117, 2650], topOff: 57, rightOff: 174, cap: [2481, 3765] } },
];

// ---------- chart helpers ----------
const FONT = '"Liberation Serif"';
const AXIS_W = 4, TICK_W = 3.5, MAJOR = 17, MINOR = 9;
const ROUNDED = [SPRING, CYAN, DODGER, BLUE];

const toXY = (p: P) => p.map(([x, y]) => ({ x, y }));
const closed = (p: P) => [...p, p[0]];
const stressLabel = (v: number) => (Math.abs(v) >= 10 ? `${(v / 10).toFixed(2)}×10⁶` : `${v.toFixed(2)}×10⁵`);
const isCore = (c: string, poly: P) => ROUNDED.includes(c) && poly.every(([x]) => Math.abs(x) < 60);

const halfSteps = (ticks: number[], range: number[]) => {
  const step = Math.abs(ticks[1] - ticks[0]);
  const out = new Set<number>();
  ticks.forEach((v) => {
    [v - step / 2, v + step / 2].forEach((m) => {
      if (m > range[0] && m < range[1]) out.add(+m.toFixed(4));
    });
  });
  return [...out];
};

const minorTicks = (xs: number[], ys: number[]) => ({
  id: "minorTicks",
  afterDraw(chart: any) {
    const { ctx, scales } = chart;
    ctx.save();
    ctx.strokeStyle = "#000";
    ctx.lineWidth = TICK_W;
    ctx.beginPath();
    xs.forEach((v) => {
      const px = scales.x.getPixelForValue(v);
      const edge = scales.x.position === "top" ? scales.x.bottom : scales.x.top;
      const dir = scales.x.position === "top" ? 1 : -1;
      ctx.moveTo(px, edge);
      ctx.lineTo(px, edge + dir * MINOR);
    });
    ys.forEach((v) => {
      const py = scales.y.getPixelForValue(v);
      ctx.moveTo(scales.y.right, py);
      ctx.lineTo(scales.y.right + MINOR, py);
    });
    ctx.stroke();
    ctx.restore();
  },
});

const fixSize = (size: number, horizontal: boolean) => (s: any) => {
  if (horizontal) s.height = size; else s.width = size;
  s.paddingLeft = s.paddingRight = s.paddingTop = s.paddingBottom = 0;
};

const axis = (o: any) => ({
  type: "linear",
  position: o.position,
  min: o.min,
  max: o.max,
  afterBuildTicks: (s: any) => { s.ticks = o.ticks.map((value: number) => ({ value })); },
  afterFit: fixSize(o.size, o.position === "top" || o.position === "bottom"),
  border: { display: true, color: "#000", width: o.borderW ?? AXIS_W },
  grid: { display: true, drawOnChartArea: false, drawTicks: true, tickLength: -MAJOR, tickWidth: TICK_W, tickColor: "#000", lineWidth: TICK_W, color: "#000" },
  ticks: {
    display: o.labels !== false,
    autoSkip: false,
    color: "#000",
    font: { family: FONT, size: 43 },
    padding: o.padding ?? 0,
    labelOffset: o.labelOffset ?? 0,
    minRotation: o.rotate ?? 0,
    maxRotation: o.rotate ?? 0,
    callback: o.format ?? ((v: number) => String(v)),
  },
});

type Spec = { key: string; left: number; top: number; width: number; height: number; config: any };
const base = { responsive: false, animation: false, devicePixelRatio: 1, plugins: { legend: { display: false }, tooltip: { enabled: false }, title: { display: false } } };

const lineSet = (data: P) => ({ data: toXY(data), showLine: true, borderColor: "#000", borderWidth: 2.5, pointRadius: 0, fill: false, tension: 0 });

function topSpec(p: Panel, i: number): Spec {
  const [x0, x1, y0, y1] = p.g.top;
  const ml = 200, mb = 90, pt = 8, pr = 30;
  return {
    key: `top${i}`, left: x0 - ml, top: y0 - pt, width: ml + x1 - x0 + pr, height: pt + y1 - y0 + mb,
    config: {
      type: "scatter",
      data: { datasets: [lineSet(p.top)] },
      plugins: [minorTicks(distanceMinor, halfSteps(p.topTicks, p.topRange))],
      options: {
        ...base,
        layout: { padding: { top: pt, right: pr, left: 0, bottom: 0 } },
        scales: {
          x: axis({ position: "bottom", min: -60, max: 60, ticks: distanceTicks, size: mb, padding: p.g.topOff - 25.8 + MAJOR }),
          y: axis({ position: "left", min: p.topRange[0], max: p.topRange[1], ticks: p.topTicks, size: ml, padding: 26, labelOffset: 2, format: stressLabel }),
        },
      },
    },
  };
}

function mapSpec(p: Panel, i: number): Spec {
  const [x0, x1, y0, y1] = p.g.map;
  const ml = 110, mt = 32, mb = 32, pr = 8;
  const layers = [
    ...p.bands.map(([c, poly], k) => ({ data: toXY(closed(poly)), showLine: true, fill: "shape", backgroundColor: c, borderColor: "#000", borderWidth: k === 0 ? 0 : 1.8, pointRadius: 0, tension: isCore(c, poly) ? 0.25 : 0, clip: 0 })),
    { data: toXY([[-60, p.hAt], [60, p.hAt]]), showLine: true, fill: false, borderColor: PURPLE, borderWidth: p.hW, pointRadius: 0, clip: 0 },
    { data: toXY([[p.vAt, 60], [p.vAt, -60]]), showLine: true, fill: false, borderColor: PURPLE, borderWidth: p.vW, pointRadius: 0, clip: 0 },
  ];
  return {
    key: `map${i}`, left: x0 - ml, top: y0 - mt, width: ml + x1 - x0 + pr, height: mt + y1 - y0 + mb,
    config: {
      type: "scatter",
      data: { datasets: layers.reverse() },
      plugins: [minorTicks(distanceMinor, distanceMinor)],
      options: {
        ...base,
        layout: { padding: { top: 0, right: pr, left: 0, bottom: mb } },
        scales: {
          x: axis({ position: "top", min: -60, max: 60, ticks: distanceTicks, size: mt, labels: false }),
          y: axis({ position: "left", min: -60, max: 60, ticks: distanceTicks, size: ml, padding: 25 }),
        },
      },
    },
  };
}

function rightSpec(p: Panel, i: number): Spec {
  const [x0, x1, y0, y1] = p.g.right;
  const ml = 110, mt = 200, mb = 50, pr = 6;
  return {
    key: `right${i}`, left: x0 - ml, top: y0 - mt, width: ml + x1 - x0 + pr, height: mt + y1 - y0 + mb,
    config: {
      type: "scatter",
      data: { datasets: [lineSet(p.right)] },
      plugins: [minorTicks(halfSteps(p.rightTicks, p.rightRange), distanceMinor)],
      options: {
        ...base,
        layout: { padding: { top: 0, right: pr, left: 0, bottom: mb } },
        scales: {
          x: axis({ position: "top", min: p.rightRange[0], max: p.rightRange[1], ticks: p.rightTicks, size: mt, padding: p.g.rightOff + MAJOR, labelOffset: -50, rotate: -90, format: stressLabel }),
          y: axis({ position: "left", min: -60, max: 60, ticks: distanceTicks, size: ml, padding: 35, labelOffset: 16 }),
        },
      },
    },
  };
}

function barSpec(p: Panel, i: number): Spec {
  const [x0, x1, y0, y1] = p.g.bar;
  const mt = 22, mb = 22, mr = 136, pl = 4;
  const n = bandColors.length;
  return {
    key: `bar${i}`, left: x0 - pl, top: y0 - mt, width: pl + x1 - x0 + mr, height: mt + y1 - y0 + mb,
    config: {
      type: "bar",
      data: {
        labels: ["Stress(Pa)"],
        datasets: [...bandColors].reverse().map((c, k) => ({
          data: [1], backgroundColor: c, borderColor: "#000", borderSkipped: false,
          borderWidth: { left: 2.5, right: 0, top: k === n - 1 ? 3 : 0, bottom: k === 0 ? 3 : 0 },
        })),
      },
      options: {
        ...base,
        layout: { padding: { top: mt, left: pl, bottom: mb, right: 0 } },
        datasets: { bar: { barPercentage: 1, categoryPercentage: 1 } },
        scales: {
          x: { type: "category", stacked: true, display: false },
          y: {
            type: "linear", position: "right", stacked: true, min: 0, max: n,
            afterBuildTicks: (s: any) => { s.ticks = Array.from({ length: n + 1 }, (_, value) => ({ value })); },
            afterFit: fixSize(mr, false),
            border: { display: true, color: "#000", width: 3.5 },
            grid: { display: true, drawOnChartArea: false, drawTicks: true, tickLength: 16, tickWidth: 2.5, tickColor: "#000", lineWidth: 2.5, color: "#000" },
            ticks: { autoSkip: false, padding: 14, color: "#000", font: { family: FONT, size: 31 }, callback: (v: number) => p.legend[n - v] },
          },
        },
      },
    },
  };
}

const specs: Spec[] = panels.flatMap((p, i) => [topSpec(p, i), mapSpec(p, i), rightSpec(p, i), barSpec(p, i)]);

export default function App() {
  const refs = useRef<Record<string, HTMLCanvasElement | null>>({});
  useEffect(() => {
    const charts = specs.map((s) => new Chart(refs.current[s.key] as HTMLCanvasElement, s.config));
    return () => charts.forEach((c) => c.destroy());
  }, []);
  return (
    <div style={{ position: "absolute", left: 0, top: 0, width: 3290, height: 3818, background: "#fff", overflow: "hidden" }}>
      {specs.map((s) => (
        <canvas key={s.key} ref={(el) => { refs.current[s.key] = el; }} width={s.width} height={s.height}
          style={{ position: "absolute", left: s.left, top: s.top, width: s.width, height: s.height, display: "block" }} />
      ))}
      {panels.map((p, i) => (
        <div key={`title${i}`} style={{ position: "absolute", left: p.g.title[0] - 150, top: p.g.title[1] - 26, width: 300, textAlign: "center", font: `43px/52px ${FONT}`, color: "#000" }}>Stress(Pa)</div>
      ))}
      {panels.map((p, i) => (
        <div key={`cap${i}`} style={{ position: "absolute", left: p.g.cap[0] - 800, top: p.g.cap[1] - 50, width: 1600, textAlign: "center", font: `80px/100px ${FONT}`, color: "#000", whiteSpace: "nowrap" }}>
          (<b>{captionLetters[i]}</b>) {captionTexts[i]}
        </div>
      ))}
    </div>
  );
}
